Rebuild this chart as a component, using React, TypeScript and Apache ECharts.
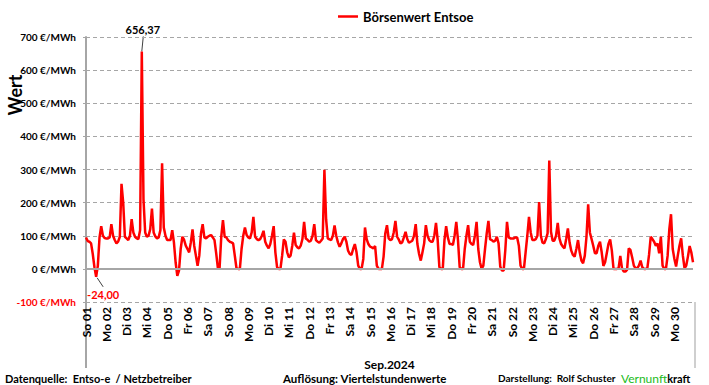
import React, { useEffect, useRef } from "react";
import * as echarts from "echarts";

// Day labels for September 2024
const dayLabels = [
  "So 01", "Mo 02", "Di 03", "Mi 04", "Do 05", "Fr 06", "Sa 07", "So 08", "Mo 09", "Di 10",
  "Mi 11", "Do 12", "Fr 13", "Sa 14", "So 15", "Mo 16", "Di 17", "Mi 18", "Do 19", "Fr 20",
  "Sa 21", "So 22", "Mo 23", "Di 24", "Mi 25", "Do 26", "Fr 27", "Sa 28", "So 29", "Mo 30",
];

const hours = [0, 2, 4, 6, 8, 10, 12, 14, 16, 18, 20, 22];

// Exchange price €/MWh, one row per day, 2-hourly
const week1 = [
  [95, 84, 82, 77, 45, 5, -24, 10, 95, 129, 100, 93],
  [92, 92, 95, 135, 100, 87, 77, 82, 97, 257, 200, 97],
  [92, 87, 100, 150, 110, 97, 92, 90, 117, 656.37, 210, 110],
  [97, 100, 120, 182, 110, 98, 92, 95, 117, 319, 125, 100],
  [87, 87, 87, 117, 80, 20, -21, -5, 60, 97, 88, 70],
  [60, 50, 80, 119, 70, 40, 9, 40, 107, 135, 95, 92],
  [97, 100, 102, 95, 87, 47, 2, 2, 97, 147, 97, 95],
];
const week2 = [
  [87, 82, 80, 77, 40, 2, 0, 0, 60, 100, 125, 102],
  [95, 92, 110, 157, 97, 90, 87, 90, 100, 115, 82, 70],
  [62, 75, 100, 129, 50, 5, 0, 0, 40, 89, 82, 50],
  [35, 40, 70, 109, 72, 65, 62, 70, 90, 142, 92, 88],
  [82, 85, 100, 135, 87, 82, 79, 85, 92, 299, 150, 92],
  [89, 87, 100, 131, 100, 80, 67, 77, 90, 97, 82, 55],
  [45, 42, 60, 75, 50, 10, 0, 0, 30, 125, 90, 75],
];
const week3 = [
  [67, 65, 62, 69, 10, 0, 0, 0, 37, 107, 132, 92],
  [87, 90, 110, 145, 97, 88, 77, 80, 95, 112, 90, 79],
  [82, 85, 100, 135, 75, 45, 25, 50, 77, 132, 100, 87],
  [82, 82, 100, 139, 87, 5, 0, 0, 87, 129, 95, 75],
  [75, 72, 100, 142, 87, 5, 0, 0, 60, 100, 132, 82],
  [75, 72, 100, 142, 60, 20, 0, 10, 60, 107, 145, 89],
  [87, 82, 85, 97, 77, 7, -5, -5, 57, 142, 95, 92],
];
const week4 = [
  [92, 92, 95, 95, 70, 10, 0, 0, 50, 100, 157, 110],
  [87, 87, 90, 100, 202, 100, 79, 77, 90, 107, 327, 112],
  [85, 85, 100, 139, 92, 75, 67, 62, 90, 122, 80, 55],
  [42, 37, 60, 87, 50, 25, 17, 40, 97, 195, 110, 90],
  [70, 47, 47, 70, 82, 50, 9, 20, 47, 75, 89, 55],
  [0, 0, 0, 2, 39, 2, -8, -8, -3, 62, 57, 35],
  [10, 2, 2, 10, 25, 5, 0, 0, 2, 42, 97, 90],
];
const week5 = [
  [82, 70, 77, 47, 97, 10, 0, 0, 40, 120, 165, 60],
  [30, 7, 40, 70, 92, 40, 2, 10, 37, 69, 50, 20],
];

// Y axis ticks
const yMin = -100;
const yMax = 700;
const yStep = 100;

const seriesName = "Börsenwert Entsoe";
const xAxisTitle = "Sep.2024";
const yAxisTitle = "Wert";

const FONT = "Lato, 'Open Sans', sans-serif";

export default function App() {
  const ref = useRef<HTMLDivElement>(null);

  useEffect(() => {
    if (!ref.current) return;
    const chart = echarts.init(ref.current, undefined, { renderer: "svg" });

    const days = [...week1, ...week2, ...week3, ...week4, ...week5];
    const values: number[] = [];
    const cats: string[] = [];
    days.forEach((row, d) => {
      row.forEach((v, h) => {
        values.push(v);
        cats.push(`${dayLabels[d]} ${String(hours[h]).padStart(2, "0")}:00`);
      });
    });
    const perDay = hours.length;

    const fmt = (v: number) => v.toFixed(2).replace(".", ",");

    const staticGraphics: any[] = [
      {
        type: "line",
        shape: { x1: 86, y1: 302, x2: 86, y2: 368 },
        style: { stroke: "#a6a6a6", lineWidth: 2 },
      },
      {
        type: "line",
        shape: { x1: 695, y1: 302, x2: 695, y2: 368 },
        style: { stroke: "#bfbfbf", lineWidth: 1.5 },
      },
      {
        type: "text",
        x: 5,
        y: 378,
        style: {
          text: "Datenquelle:  Entso-e  / Netzbetreiber",
          font: `bold 11px ${FONT}`,
          fill: "#000",
          verticalAlign: "middle",
        },
      },
      {
        type: "text",
        x: 283,
        y: 378,
        style: {
          text: "Auflösung: Viertelstundenwerte",
          font: `bold 11.5px ${FONT}`,
          fill: "#000",
          verticalAlign: "middle",
        },
      },
      {
        type: "text",
        x: 498,
        y: 378,
        style: {
          text: "Darstellung:  Rolf Schuster",
          font: `bold 10px ${FONT}`,
          fill: "#000",
          verticalAlign: "middle",
        },
      },
      {
        type: "text",
        x: 621,
        y: 378,
        style: {
          text: "{g|Vernunft}{k|kraft}",
          verticalAlign: "middle",
          rich: {
            g: { fontFamily: FONT, fontSize: 12, fill: "#22bb22", color: "#22bb22" },
            k: { fontFamily: FONT, fontSize: 11, fontWeight: "bold", fill: "#000", color: "#000" },
          },
        },
      },
    ];

    chart.setOption({
      animation: false,
      textStyle: { fontFamily: FONT },
      legend: {
        data: [seriesName],
        left: 338,
        top: 10,
        icon: "rect",
        itemWidth: 20,
        itemHeight: 2.5,
        itemGap: 4,
        padding: 0,
        textStyle: { fontWeight: "bold", fontSize: 13, color: "#000", fontFamily: FONT },
      },
      grid: [
        { left: 86, top: 37, right: 16, bottom: 83, containLabel: false },
        { left: 86, top: 37, width: 1, height: 116, containLabel: false },
      ],
      xAxis: [
        {
          type: "category",
          data: cats,
          boundaryGap: false,
          axisLine: { show: false },
          axisTick: { show: false },
          splitLine: { show: false },
          axisLabel: {
            interval: perDay - 1,
            rotate: 90,
            margin: 5,
            fontWeight: "bold",
            fontSize: 12,
            color: "#000",
            fontFamily: FONT,
            formatter: (_v: string, i: number) => dayLabels[Math.floor(i / perDay)],
          },
          name: xAxisTitle,
          nameLocation: "middle",
          nameGap: 56,
          nameTextStyle: { fontWeight: "bold", fontSize: 12, color: "#000", fontFamily: FONT },
        },
        {
          type: "value",
          gridIndex: 1,
          show: false,
        },
      ],
      yAxis: [
        {
          type: "value",
          min: yMin,
          max: yMax,
          interval: yStep,
          axisLine: { show: true, lineStyle: { color: "#a6a6a6", width: 2 } },
          axisTick: { show: true, length: 3, lineStyle: { color: "#a6a6a6" } },
          splitLine: { show: true, lineStyle: { color: "#a6a6a6", type: [4, 3], width: 1.2 } },
          axisLabel: {
            margin: 10,
            fontWeight: "bold",
            fontSize: 10,
            fontFamily: FONT,
            color: (v: any) => (Number(v) < 0 ? "#ff0000" : "#000"),
            formatter: (v: number) => `${v} €/MWh`,
          },
        },
        {
          type: "value",
          gridIndex: 1,
          min: 0,
          max: 1,
          axisLine: { show: false },
          axisTick: { show: false },
          axisLabel: { show: false },
          splitLine: { show: false },
          name: yAxisTitle,
          nameLocation: "middle",
          nameRotate: 90,
          nameGap: 62,
          nameTextStyle: { fontWeight: "bold", fontSize: 18, color: "#000", fontFamily: FONT },
        },
      ],
      series: [
        {
          type: "line",
          data: [],
          z: 1,
          silent: true,
          markLine: {
            silent: true,
            symbol: "none",
            label: { show: false },
            lineStyle: { color: "#a6a6a6", type: "solid", width: 2 },
            data: [{ yAxis: 0 }],
          },
        },
        {
          name: seriesName,
          type: "line",
          data: values,
          z: 3,
          showSymbol: false,
          symbol: "none",
          lineStyle: { color: "#ff0000", width: 2.5 },
          itemStyle: { color: "#ff0000" },
        },
      ],
      graphic: staticGraphics,
    });

    const maxV = Math.max(...values);
    const minV = Math.min(...values);
    const maxI = values.indexOf(maxV);
    const minI = values.indexOf(minV);
    const pMax = chart.convertToPixel({ seriesIndex: 1 }, [maxI, maxV]) as number[];
    const pMin = chart.convertToPixel({ seriesIndex: 1 }, [minI, minV]) as number[];

    const annotations: any[] = [
      {
        type: "line",
        shape: { x1: pMax[0], y1: pMax[1], x2: pMax[0] + 1.5, y2: pMax[1] - 15 },
        style: { stroke: "#404040", lineWidth: 1 },
      },
      {
        type: "text",
        x: pMax[0] + 1,
        y: pMax[1] - 22,
        style: {
          text: fmt(maxV),
          font: `bold 11px ${FONT}`,
          fill: "#000",
          align: "center",
          verticalAlign: "middle",
        },
      },
      {
        type: "line",
        shape: { x1: pMin[0] + 1, y1: pMin[1] + 1, x2: pMin[0] + 7, y2: pMin[1] + 10 },
        style: { stroke: "#404040", lineWidth: 1 },
      },
      {
        type: "text",
        x: pMin[0] + 7,
        y: pMin[1] + 18,
        style: {
          text: fmt(minV),
          font: `bold 11px ${FONT}`,
          fill: "#ff0000",
          align: "center",
          verticalAlign: "middle",
        },
      },
    ];

    chart.setOption({ graphic: [...staticGraphics, ...annotations] });

    return () => chart.dispose();
  }, []);

  return (
    <div
      ref={ref}
      style={{ position: "fixed", left: 0, top: 0, width: 709, height: 385, background: "#fff" }}
    />
  );
}
